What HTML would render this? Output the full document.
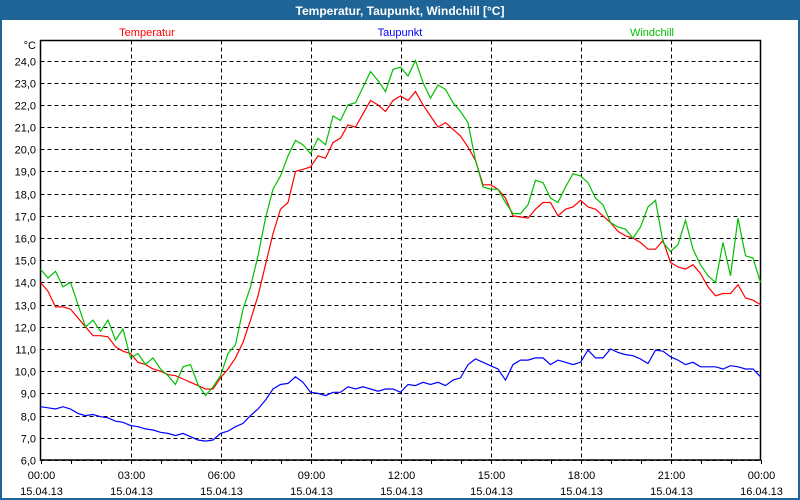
<!DOCTYPE html>
<html><head><meta charset="utf-8"><style>
html,body{margin:0;padding:0;background:#fff;}
#wrap{position:relative;width:800px;height:500px;overflow:hidden;font-family:"Liberation Sans","DejaVu Sans",sans-serif;}
</style></head><body>
<div id="wrap">
<svg id="chart" width="800" height="500"></svg>
</div>
<script>
const categories = ["00:00","03:00","06:00","09:00","12:00","15:00","18:00","21:00","00:00"];
const dateLabels = ["15.04.13","15.04.13","15.04.13","15.04.13","15.04.13","15.04.13","15.04.13","15.04.13","16.04.13"];
const yTicks = [6,7,8,9,10,11,12,13,14,15,16,17,18,19,20,21,22,23,24];
const temperatur = [14.0,13.6,12.9,12.9,12.8,12.4,12.0,11.6,11.6,11.55,11.1,10.9,10.8,10.4,10.3,10.1,10.0,9.85,9.8,9.65,9.5,9.35,9.2,9.2,9.7,10.1,10.6,11.3,12.3,13.4,14.8,16.2,17.3,17.6,19.0,19.1,19.2,19.7,19.6,20.3,20.5,21.1,21.0,21.6,22.2,22.0,21.7,22.2,22.4,22.2,22.6,22.0,21.5,21.0,21.2,20.9,20.6,20.1,19.5,18.4,18.4,18.2,17.8,17.0,16.95,16.9,17.3,17.6,17.6,17.0,17.3,17.4,17.7,17.4,17.3,17.0,16.7,16.3,16.1,16.0,15.8,15.5,15.5,15.9,14.9,14.7,14.6,14.8,14.4,13.8,13.4,13.5,13.5,13.9,13.3,13.2,13.0];
const windchill = [14.6,14.2,14.5,13.8,14.0,13.0,12.0,12.3,11.8,12.3,11.4,11.9,10.6,10.8,10.3,10.6,10.1,9.8,9.4,10.2,10.3,9.4,8.9,9.3,9.8,10.8,11.2,12.8,13.8,15.2,16.9,18.2,18.8,19.7,20.4,20.2,19.8,20.5,20.2,21.5,21.3,22.0,22.1,22.8,23.5,23.1,22.6,23.6,23.7,23.3,24.0,23.0,22.3,22.9,22.7,22.1,21.7,21.2,19.5,18.3,18.2,18.2,17.6,17.1,17.1,17.5,18.6,18.5,17.8,17.6,18.3,18.9,18.8,18.5,17.8,17.5,16.7,16.5,16.4,16.0,16.5,17.4,17.7,15.8,15.4,15.7,16.8,15.5,14.8,14.3,14.0,15.8,14.3,16.9,15.2,15.1,14.0];
const taupunkt = [8.4,8.35,8.3,8.4,8.3,8.1,8.0,8.05,7.95,7.9,7.75,7.7,7.55,7.5,7.4,7.35,7.25,7.2,7.1,7.2,7.05,6.9,6.85,6.9,7.2,7.3,7.5,7.65,8.0,8.3,8.7,9.2,9.4,9.45,9.75,9.5,9.05,9.0,8.9,9.05,9.05,9.3,9.2,9.3,9.2,9.1,9.2,9.2,9.05,9.4,9.35,9.5,9.4,9.5,9.35,9.6,9.7,10.3,10.55,10.4,10.25,10.1,9.6,10.3,10.5,10.5,10.6,10.6,10.3,10.5,10.4,10.3,10.4,10.95,10.6,10.6,11.0,10.85,10.75,10.7,10.55,10.35,10.95,10.9,10.65,10.5,10.3,10.4,10.2,10.2,10.2,10.1,10.25,10.2,10.1,10.1,9.75];

const NS="http://www.w3.org/2000/svg";
const svg=document.getElementById('chart');
const L=40.5,R=760.5,T=40.5,B=460,yMin=6,yMax=24,hours=24;
const xScale=h=>L+(R-L)*h/hours;
const yScale=v=>B-(v-yMin)*(B-60.5)/(yMax-yMin);
function mk(tag,attrs){const e=document.createElementNS(NS,tag);for(const k in attrs)e.setAttribute(k,attrs[k]);svg.appendChild(e);return e;}

let e;
e=mk('rect',{x:0.5,y:0.5,width:799,height:499,fill:'#fff',stroke:'#1e6496','stroke-width':3});


e=mk('rect',{x:0,y:0,width:800,height:20,fill:'#1e6496'});


e=mk('text',{x:400,y:15,'text-anchor':'middle',fill:'#fff','font-size':12,'font-weight':'bold'});
e.textContent='Temperatur, Taupunkt, Windchill [°C]';



const legends=[["Temperatur","#ff0000",147],["Taupunkt","#0000ff",400],["Windchill","#00c000",652]];
legends.forEach(l=>{
  const t=mk('text',{x:l[2],y:36,'text-anchor':'middle',fill:l[1],'font-size':11});
  t.textContent=l[0];
  
  
});

// grid
yTicks.forEach(v=>{
  const y=Math.round(yScale(v))+0.5;
  const g=mk('line',{x1:L,x2:R,y1:y,y2:y,stroke:'#000','stroke-dasharray':'4,3'});
  
  
  const t=mk('text',{x:36,y:y+4,'text-anchor':'end','font-size':11,fill:'#000'});
  t.textContent=v.toFixed(1).replace('.',',');
  
  
});
e=mk('text',{x:36,y:49,'text-anchor':'end','font-size':11,fill:'#000'});
e.textContent='°C';


categories.forEach((c,i)=>{
  const x=Math.round(xScale(i*3))+0.5;
  if(i>0&&i<categories.length-1){
    const g=mk('line',{x1:x,x2:x,y1:T,y2:B,stroke:'#000','stroke-dasharray':'4,3'});
    
    
  }
  const t=mk('text',{x:x,y:479,'text-anchor':'middle','font-size':11,fill:'#000'});
  t.textContent=c;
  
  
  const d=mk('text',{x:x,y:495,'text-anchor':'middle','font-size':11,fill:'#000'});
  d.textContent=dateLabels[i];
  
  
});
for(let h=0;h<=hours;h++){
  const x=Math.round(xScale(h))+0.5;
  const tk=mk('line',{x1:x,x2:x,y1:B,y2:B+4,stroke:'#000'});
  
  
}
e=mk('rect',{x:L,y:T,width:R-L,height:B-T,fill:'none',stroke:'#000','stroke-width':1.5});



function series(arr,color,name){
  const n=arr.length-1;
  const pts=arr.map((v,i)=>xScale(i*hours/n).toFixed(1)+','+yScale(v).toFixed(1)).join(' ');
  const p=mk('polyline',{points:pts,fill:'none',stroke:color,'stroke-width':1.2});
  
  
}
series(taupunkt,'#0000ff','taupunkt-line');
series(temperatur,'#ff0000','temperatur-line');
series(windchill,'#00c000','windchill-line');
</script>
</body></html>
